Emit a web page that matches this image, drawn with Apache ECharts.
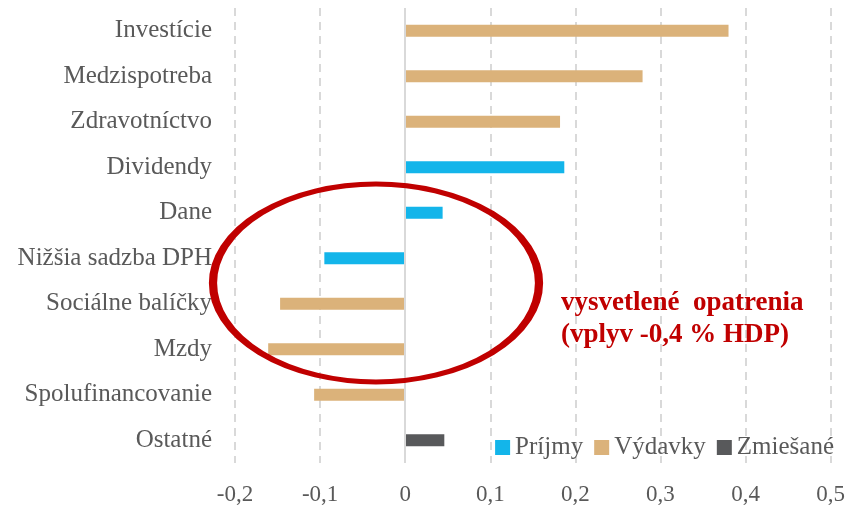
<!DOCTYPE html>
<html>
<head>
<meta charset="utf-8">
<script src="https://cdn.jsdelivr.net/npm/echarts@6/dist/echarts.min.js"></script>
<style>
  html, body { margin: 0; padding: 0; background: #fff; }
  #chart { width: 848px; height: 506px; }
</style>
</head>
<body>
<div id="chart"></div>
<script>
// categories from top to bottom
const categories = ['Investície', 'Medzispotreba', 'Zdravotníctvo', 'Dividendy', 'Dane',
  'Nižšia sadzba DPH', 'Sociálne balíčky', 'Mzdy', 'Spolufinancovanie', 'Ostatné'];

const prijmy   = ['-', '-', '-', 0.187, 0.044, -0.095, '-', '-', '-', '-'];
const vydavky  = [0.380, 0.279, 0.182, '-', '-', '-', -0.147, -0.161, -0.107, '-'];
const zmiesane = ['-', '-', '-', '-', '-', '-', '-', '-', '-', 0.046];

const xTicks = { min: -0.2, max: 0.5, interval: 0.1 };
const note = ['vysvetlené  opatrenia', '(vplyv -0,4 % HDP)'];

const font = 'Liberation Serif';
const grey = '#595959';

const chart = echarts.init(document.getElementById('chart'));

const fmt = v => {
  if (Math.abs(v) < 1e-9) return '0';
  return v.toFixed(1).replace('.', ',');
};

chart.setOption({
  animation: false,
  backgroundColor: '#fff',
  textStyle: { fontFamily: font },
  grid: { left: 235, right: 15, top: 8, bottom: 43 },
  legend: {
    right: 9, top: 430,
    icon: 'rect', itemWidth: 15, itemHeight: 15, itemGap: 11, itemTextGap: 6,
    textStyle: { fontFamily: font, fontSize: 25, color: grey },
    data: ['Príjmy', 'Výdavky', 'Zmiešané']
  },
  xAxis: {
    type: 'value',
    min: xTicks.min, max: xTicks.max, interval: xTicks.interval,
    axisLine: { show: false },
    axisTick: { show: false },
    axisLabel: { formatter: fmt, color: grey, fontSize: 23, margin: 20, fontFamily: font },
    splitLine: { lineStyle: { type: [8, 6], color: '#d9d9d9', width: 2 } }
  },
  yAxis: {
    type: 'category',
    inverse: true,
    data: categories,
    axisLine: { show: false, onZero: false },
    axisTick: { show: false },
    axisLabel: { color: grey, fontSize: 25, margin: 23, fontFamily: font }
  },
  series: [
    {
      name: 'Príjmy', type: 'bar', data: prijmy, barWidth: 12, barGap: '-100%',
      itemStyle: { color: '#13B5EA' },
      markLine: {
        silent: true, symbol: 'none', label: { show: false },
        lineStyle: { color: '#d9d9d9', type: 'solid', width: 2 },
        data: [{ xAxis: 0 }]
      }
    },
    { name: 'Výdavky', type: 'bar', data: vydavky, barWidth: 12, barGap: '-100%',
      itemStyle: { color: '#DBB27A' } },
    { name: 'Zmiešané', type: 'bar', data: zmiesane, barWidth: 12, barGap: '-100%',
      itemStyle: { color: '#58595B' } }
  ],
  graphic: [
    {
      type: 'circle',
      x: 376, y: 283,
      scaleX: 163 / 99,
      shape: { cx: 0, cy: 0, r: 99 },
      style: { fill: 'none', stroke: '#C00000', lineWidth: 5, strokeNoScale: true },
      z: 100
    },
    {
      type: 'text',
      left: 561, top: 287,
      style: {
        text: note.join('\n'),
        fill: '#C00000',
        font: 'bold 27px "Liberation Serif"',
        lineHeight: 32
      },
      z: 100
    }
  ]
});
</script>
</body>
</html>
